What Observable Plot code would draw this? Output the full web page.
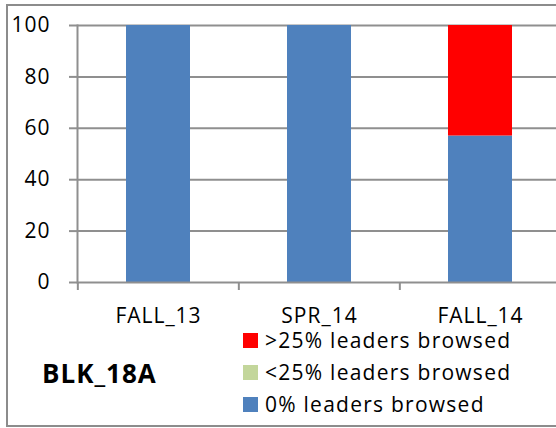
<!DOCTYPE html>
<html>
<head>
<meta charset="utf-8">
<script src="https://cdn.jsdelivr.net/npm/d3@7"></script>
<script src="https://cdn.jsdelivr.net/npm/@observablehq/plot@0.6"></script>
<style>
  html, body { margin: 0; padding: 0; background: #fff; }
  #wrap { position: relative; width: 556px; height: 428px; overflow: hidden; background: #fff;
          font-family: "Open Sans", sans-serif; color: #000; }
  #frame { position: absolute; left: 6px; top: 4px; width: 640px; height: 423px;
           border: 2px solid #8c8c8c; box-sizing: border-box; }
  #chart { position: absolute; left: 0; top: 0; }
  #title { position: absolute; left: 42px; top: 361px; font-weight: bold; font-size: 26px;
           line-height: 25px; letter-spacing: 1px; white-space: nowrap; }
  #legend { position: absolute; left: 243px; top: 324px; font-size: 21px; letter-spacing: 1.25px; }
  .row { height: 32px; line-height: 32px; white-space: nowrap; }
  .sw { display: inline-block; width: 15px; height: 15px; margin-right: 7px; vertical-align: baseline; }
</style>
</head>
<body>
<div id="wrap">
  <div id="frame"></div>
  <div id="chart"></div>
  <div id="title"></div>
  <div id="legend"></div>
</div>
<script>
// ---- data ----
const seasons = ["FALL_13", "SPR_14", "FALL_14"];
const seriesNames = ["0% leaders browsed", "<25% leaders browsed", ">25% leaders browsed"];
const zeroPct = [100, 100, 57];
const under25 = [0, 0, 0];
const over25 = [0, 0, 43];
const seriesColors = ["#4f81bd", "#c3d69b", "#ff0000"];
const yTicks = [0, 20, 40, 60, 80, 100];
const gridTicks = [20, 40, 60, 80, 100];
const blockName = "BLK_18A";

// ---- table ----
const seriesValues = [zeroPct, under25, over25];
const rows = [];
seriesNames.forEach((s, si) => {
  seasons.forEach((season, i) => rows.push({season, series: s, value: seriesValues[si][i]}));
});

// ---- layout ----
const xRange = [77, 561];
const padIn = 0.6, padOut = 0.3;
const step = (xRange[1] - xRange[0]) / (seasons.length - padIn + 2 * padOut);
const gray = "#8f8f8f";

const chart = Plot.plot({
  width: 556,
  height: 330,
  marginLeft: 77,
  marginRight: 0,
  marginTop: 25,
  marginBottom: 48,
  style: {fontFamily: "'Open Sans', sans-serif", fontSize: "21px", overflow: "visible", background: "transparent"},
  x: {domain: seasons, range: xRange, paddingInner: padIn, paddingOuter: padOut, label: null},
  y: {domain: [0, 100], label: null},
  color: {domain: seriesNames, range: seriesColors},
  marks: [
    Plot.gridY(gridTicks, {stroke: gray, strokeOpacity: 1, strokeWidth: 2}),
    Plot.barY(rows, {x: "season", y: "value", fill: "series"}),
    Plot.ruleY([0], {stroke: gray, strokeWidth: 2}),
    Plot.frame({anchor: "left", stroke: gray, strokeWidth: 2}),
    Plot.axisY({ticks: yTicks, tickSize: 8, tickPadding: 19, stroke: gray, strokeWidth: 2, fill: "#000", label: null, fontSize: 21}),
    Plot.axisX({tickSize: 8, tickFormat: () => "", dx: -step / 2, stroke: gray, strokeWidth: 2, label: null}),
    Plot.axisX({tickSize: 0, tickPadding: 26, fill: "#000", label: null, fontSize: 21})
  ]
});
chart.style.letterSpacing = "1px";
document.getElementById("chart").appendChild(chart);

document.getElementById("title").textContent = blockName;

const legend = document.getElementById("legend");
seriesNames.slice().reverse().forEach((s) => {
  const row = document.createElement("div");
  row.className = "row";
  const sw = document.createElement("span");
  sw.className = "sw";
  sw.style.background = seriesColors[seriesNames.indexOf(s)];
  row.appendChild(sw);
  row.appendChild(document.createTextNode(s));
  legend.appendChild(row);
});
</script>
</body>
</html>
